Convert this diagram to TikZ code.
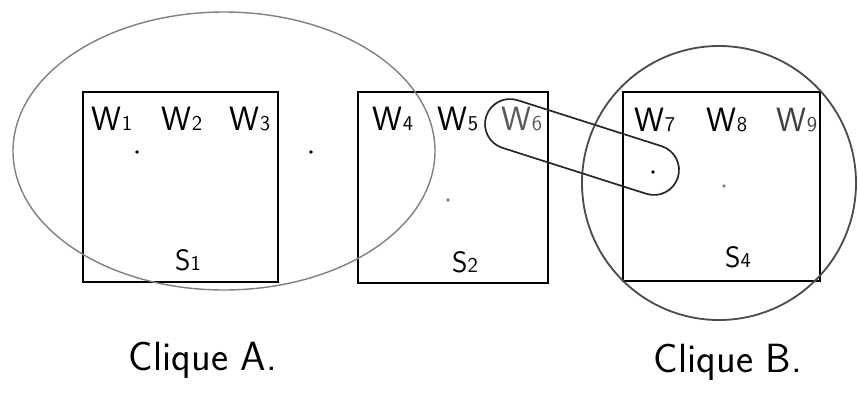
\documentclass[tikz,border=0pt]{standalone}
\usepackage{tikz}
\usetikzlibrary{positioning}

\newcommand{\wsub}[1]{{\fontsize{15}{15}\selectfont #1}}

\begin{document}
\begin{tikzpicture}[x=0.025cm, y=-0.025cm,
            wlabel/.style={font=\sffamily\fontsize{24}{24}\selectfont, inner sep=0pt, anchor=base},
            slabel/.style={font=\sffamily\fontsize{21}{21}\selectfont, inner sep=0pt, anchor=base},
            cliquelabel/.style={font=\sffamily\fontsize{29}{29}\selectfont, inner sep=0pt, anchor=base},
            sitebox/.style={draw=black, line width=1.4pt},
            cliqueline/.style={draw=black!50, line width=1pt},
            dot/.style={circle, fill=black, inner sep=0pt, minimum size=2.6pt}]

            \useasboundingbox (0,0) rectangle (858,409);

            % Boxes
            \draw [sitebox] (83,92) rectangle (278,282);
            \draw [sitebox] (358,92) rectangle (548,283);
            \draw [sitebox] (623,92) rectangle (820,281);

            % Cliques
            \draw [cliqueline] (224,151) ellipse [x radius=211, y radius=139];
            \draw [cliqueline, draw=black!70, line width=1.3pt] (719,183) circle [radius=137];
            \draw [cliqueline, draw=black!85, line width=1.2pt, rotate around={-17.7:(582,147)}, rounded corners=0.625cm]
                (481.4,122) rectangle (682.6,172);

            % Nodes
            \node (w1) [wlabel] at (112,130) {W\wsub{1}};
            \node (w2) [wlabel] at (182,130) {W\wsub{2}};
            \node (w3) [wlabel] at (250,130) {W\wsub{3}};
            \node (w4) [wlabel] at (393,130) {W\wsub{4}};
            \node (w5) [wlabel] at (458,130) {W\wsub{5}};
            \node (w6) [wlabel, text=black!65] at (522,130) {W\wsub{6}};
            \node (w7) [wlabel] at (655,131) {W\wsub{7}};
            \node (w8) [wlabel] at (727,131) {W\wsub{8}};
            \node (w9) [wlabel, text=black!75] at (797,131) {W\wsub{9}};
            \node (s1) [slabel] at (188,270) {S\wsub{1}};
            \node (s2) [slabel] at (465,272) {S\wsub{2}};
            \node (s4) [slabel] at (738,267) {S\wsub{4}};
            \node (cliqueA) [cliquelabel] at (203,370) {Clique A.};
            \node (cliqueB) [cliquelabel] at (728,372) {Clique B.};

            % Points
            \node (p1) [dot] at (137,152) {};
            \node (p2) [dot] at (311,152) {};
            \node (p3) [dot, fill=black!50] at (448,200) {};
            \node (p4) [dot] at (653,172) {};
            \node (p5) [dot, fill=black!50] at (724,186) {};
        \end{tikzpicture}
\end{document}
